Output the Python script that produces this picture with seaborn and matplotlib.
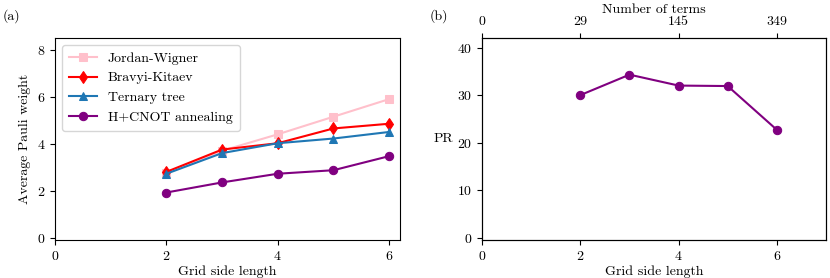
import numpy as np
import pandas as pd
import matplotlib
matplotlib.use("Agg")
import matplotlib.pyplot as plt
import seaborn as sns

plt.rcParams['font.family'] = ['cmr10', 'DejaVu Serif']
plt.rcParams['mathtext.fontset'] = 'cm'
plt.rcParams['axes.formatter.use_mathtext'] = True
plt.rcParams['font.size'] = 10

# Data
grid_sizes = [2, 3, 4, 5, 6]
jordan_wigner = [2.75, 3.70, 4.40, 5.15, 5.90]
bravyi_kitaev = [2.80, 3.75, 4.02, 4.65, 4.85]
ternary_tree = [2.72, 3.60, 4.02, 4.22, 4.50]
hcnot_annealing = [1.92, 2.35, 2.72, 2.87, 3.47]
pr_values = [30.0, 34.3, 32.0, 31.9, 22.7]
term_ticks = [0, 2, 4, 6]
term_labels = ['0', '29', '145', '349']

fig = plt.figure(figsize=(8.3, 2.78), dpi=100)
ax1 = fig.add_axes([0.0663, 0.137, 0.416, 0.726])
ax2 = fig.add_axes([0.581, 0.137, 0.414, 0.726])

# -----------------------------
# Panel (a)
# -----------------------------
series = [
    ('Jordan-Wigner', jordan_wigner, 'pink', 's'),
    ('Bravyi-Kitaev', bravyi_kitaev, 'red', 'd'),
    ('Ternary tree', ternary_tree, 'tab:blue', '^'),
    ('H+CNOT annealing', hcnot_annealing, 'purple', 'o'),
]
for name, vals, color, mk in series:
    sns.lineplot(x=grid_sizes, y=vals, ax=ax1, color=color, marker=mk,
                 markersize=6, markeredgecolor=color, label=name)

ax1.set_xlim(0, 6.2)
ax1.set_ylim(-0.1, 8.5)
ax1.set_xticks([0, 2, 4, 6])
ax1.set_yticks([0, 2, 4, 6, 8])
ax1.set_xlabel('Grid side length', labelpad=2)
ax1.set_ylabel('Average Pauli weight')
ax1.legend(loc='upper left', fontsize=10, borderpad=0.5)
fig.text(0.003, 0.93, '(a)', fontsize=10)

# -----------------------------
# Panel (b)
# -----------------------------
sns.lineplot(x=grid_sizes, y=pr_values, ax=ax2, color='purple', marker='o',
             markersize=6, markeredgecolor='purple')
ax2.set_xlim(0, 7.0)
ax2.set_ylim(-0.5, 42)
ax2.set_xticks([0, 2, 4, 6])
ax2.set_yticks([0, 10, 20, 30, 40])
ax2.set_xlabel('Grid side length', labelpad=2)
ax2.set_ylabel('PR', rotation=0, labelpad=10, va='center')

ax_top = ax2.twiny()
ax_top.set_xlim(ax2.get_xlim())
ax_top.set_xticks(term_ticks)
ax_top.set_xticklabels(term_labels)
ax_top.set_xlabel('Number of terms', labelpad=2)
fig.text(0.518, 0.93, '(b)', fontsize=10)

fig.savefig('out.png', dpi=100)
